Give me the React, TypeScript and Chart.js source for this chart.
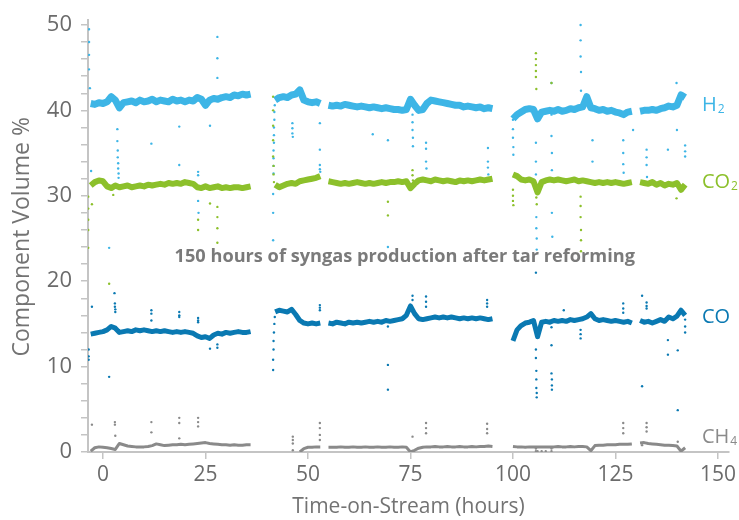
import React, { useEffect, useRef } from "react";
import { Chart, registerables } from "chart.js";

Chart.register(...registerables);

// Time grid (hours on stream)
const hours = [
  -3, -2, -1, 0, 1, 2, 3, 4, 5, 6,
  7, 8, 9, 10, 11, 12, 13, 14, 15, 16,
  17, 18, 19, 20, 21, 22, 23, 24, 25, 26,
  27, 28, 29, 30, 31, 32, 33, 34, 35, 36,
  37, 38, 39, 40, 41, 42, 43, 44, 45, 46,
  47, 48, 49, 50, 51, 52, 53, 54, 55, 56,
  57, 58, 59, 60, 61, 62, 63, 64, 65, 66,
  67, 68, 69, 70, 71, 72, 73, 74, 75, 76,
  77, 78, 79, 80, 81, 82, 83, 84, 85, 86,
  87, 88, 89, 90, 91, 92, 93, 94, 95, 96,
  97, 98, 99, 100, 101, 102, 103, 104, 105, 106,
  107, 108, 109, 110, 111, 112, 113, 114, 115, 116,
  117, 118, 119, 120, 121, 122, 123, 124, 125, 126,
  127, 128, 129, 130, 131, 132, 133, 134, 135, 136,
  137, 138, 139, 140, 141, 142, 143,
];

const h2 = [
  40.8, 40.7, 40.9, 40.8, 41.0, 41.6, 41.2, 40.3, 40.9, 41.0,
  41.1, 40.9, 41.2, 41.0, 41.1, 41.3, 41.0, 41.2, 41.1, 41.0,
  41.3, 41.1, 41.2, 41.0, 41.2, 41.1, 41.5, 41.3, 40.6, 41.2,
  41.4, 41.3, 41.5, 41.6, 41.5, 41.8, 41.7, 41.9, 41.8, 41.9,
  null, null, null, null, null, 41.2, 41.5, 41.6, 41.5, 41.8,
  41.9, 42.4, 41.2, 41.0, 40.9, 41.0, 40.8, null, 40.6, 40.5,
  40.6, 40.5, 40.7, 40.6, 40.5, 40.4, 40.5, 40.4, 40.3, 40.4,
  40.3, 40.2, 40.3, 40.2, 40.1, 40.1, 40.0, 40.1, 41.3, 40.6,
  40.0, 40.1, 40.8, 41.2, 41.1, 41.0, 40.9, 40.8, 40.7, 40.6,
  40.6, 40.4, 40.5, 40.4, 40.3, 40.4, 40.2, 40.3, 40.2, null,
  null, null, null, 39.0, 39.5, 39.8, 40.1, 40.2, 40.1, 39.0,
  39.8, 39.9, 40.0, 39.9, 40.1, 39.9, 40.0, 40.2, 40.1, 40.3,
  40.4, 41.6, 40.3, 40.2, 40.0, 40.1, 39.9, 40.0, 39.8, 39.7,
  39.5, 39.8, 39.9, null, 39.9, 40.0, 40.0, 40.1, 40.0, 40.2,
  40.3, 40.5, 40.4, 40.6, 41.8, 41.5, null,
];

const co2 = [
  31.2, 31.6, 31.8, 31.7, 31.1, 30.9, 31.2, 31.0, 31.1, 31.2,
  31.0, 31.1, 31.2, 31.1, 31.3, 31.2, 31.3, 31.4, 31.3, 31.5,
  31.4, 31.5, 31.4, 31.6, 31.5, 31.4, 31.0, 30.9, 31.1, 30.9,
  31.0, 31.1, 30.9, 31.0, 30.9, 31.0, 31.0, 30.9, 31.0, 31.1,
  null, null, null, null, null, 31.3, 31.0, 31.2, 31.4, 31.5,
  31.4, 31.7, 31.8, 31.9, 32.0, 32.1, 32.3, null, 31.7, 31.6,
  31.5, 31.4, 31.5, 31.4, 31.5, 31.6, 31.5, 31.4, 31.5, 31.4,
  31.5, 31.6, 31.5, 31.6, 31.6, 31.7, 31.6, 31.7, 30.9, 31.4,
  31.8, 31.9, 31.8, 31.7, 31.9, 31.8, 31.7, 31.8, 31.7, 31.6,
  31.8, 31.7, 31.8, 31.7, 31.8, 31.9, 31.8, 31.9, 32.0, null,
  null, null, null, 32.5, 32.3, 31.9, 31.8, 31.9, 31.7, 30.4,
  31.6, 31.8, 31.9, 31.8, 31.9, 31.8, 31.7, 31.8, 31.9, 31.7,
  31.8, 31.7, 31.6, 31.5, 31.6, 31.5, 31.6, 31.5, 31.6, 31.5,
  31.4, 31.5, 31.6, null, 31.6, 31.5, 31.4, 31.6, 31.3, 31.5,
  31.2, 31.4, 31.3, 31.5, 30.7, 31.3, null,
];

const co = [
  13.8, 13.9, 14.0, 14.1, 14.3, 14.7, 14.5, 14.0, 14.1, 14.2,
  14.1, 14.3, 14.2, 14.3, 14.2, 14.1, 14.2, 14.1, 14.2, 14.1,
  14.0, 14.1, 14.0, 14.1, 14.0, 13.9, 13.6, 13.4, 13.5, 13.3,
  13.7, 13.9, 13.8, 14.0, 13.9, 14.0, 14.1, 14.0, 14.0, 14.1,
  null, null, null, null, null, 16.4, 16.6, 16.5, 16.4, 16.7,
  16.1, 15.4, 15.1, 15.0, 15.1, 15.0, 15.1, null, 15.1, 15.0,
  15.2, 15.1, 15.0, 15.2, 15.1, 15.2, 15.1, 15.2, 15.3, 15.2,
  15.3, 15.2, 15.4, 15.3, 15.4, 15.5, 15.6, 16.0, 17.1, 16.2,
  15.6, 15.5, 15.6, 15.7, 15.8, 15.7, 15.8, 15.7, 15.8, 15.7,
  15.6, 15.7, 15.6, 15.7, 15.6, 15.7, 15.6, 15.5, 15.6, null,
  null, null, null, 13.0, 14.3, 14.8, 15.1, 15.2, 15.4, 13.5,
  15.2, 15.3, 15.2, 15.4, 15.3, 15.4, 15.3, 15.5, 15.4, 15.5,
  15.6, 15.8, 16.2, 15.6, 15.4, 15.5, 15.4, 15.3, 15.4, 15.3,
  15.2, 15.3, 15.1, null, 15.4, 15.2, 15.3, 15.1, 15.3, 15.5,
  15.3, 15.8, 15.6, 15.9, 16.6, 16.0, null,
];

const ch4 = [
  0.1, 0.5, 0.6, 0.55, 0.5, 0.4, 0.3, 1.0, 0.85, 0.7,
  0.65, 0.6, 0.6, 0.6, 0.65, 0.75, 0.95, 0.85, 0.75, 0.8,
  0.85, 0.85, 0.9, 0.85, 0.9, 0.95, 1.0, 1.05, 1.1, 1.0,
  0.95, 0.9, 0.85, 0.85, 0.8, 0.85, 0.8, 0.8, 0.85, 0.85,
  null, null, null, null, null, null, null, null, null, null,
  null, 0.0, 0.4, 0.55, 0.55, 0.6, 0.6, null, 0.55, 0.55,
  0.55, 0.6, 0.55, 0.55, 0.6, 0.55, 0.55, 0.6, 0.55, 0.55,
  0.6, 0.55, 0.55, 0.6, 0.55, 0.55, 0.6, 0.55, 0.0, 0.2,
  0.45, 0.55, 0.6, 0.6, 0.65, 0.6, 0.6, 0.65, 0.6, 0.6,
  0.65, 0.6, 0.6, 0.65, 0.6, 0.65, 0.65, 0.7, 0.65, null,
  null, null, null, 0.65, 0.6, 0.6, 0.55, 0.6, 0.6, 0.6,
  0.6, 0.6, 0.6, 0.6, 0.65, 0.6, 0.6, 0.65, 0.6, 0.65,
  0.65, 0.6, 0.15, 0.75, 0.8, 0.8, 0.85, 0.85, 0.85, 0.9,
  0.9, 0.9, 0.95, null, 1.05, 1.1, 1.0, 0.95, 0.9, 0.85,
  0.8, 0.8, 0.75, 0.7, 0.1, 0.5, null,
];

// Stray readings [hour, %]
const h2Stray = [
  [-3.4, 49.5], [-3.4, 48], [-3.4, 46.5], [-3.4, 44.8], [-3.2, 42.6], [-2.9, 32.9],
  [1.5, 23.9],
  [3.5, 37.8], [3.5, 36.4], [3.6, 35.3], [3.6, 34.5], [3.7, 33.8], [3.7, 33.2], [3.8, 32.6], [3.8, 32.1],
  [11.8, 36.1], [18.6, 38.1], [18.6, 33.6],
  [23.2, 32.8], [23.2, 32.4], [23.2, 29.4], [23.3, 28.0], [26.1, 38.2],
  [27.9, 48.6], [27.9, 46.1], [27.9, 43.8],
  [41.5, 24.8], [41.5, 28.0], [41.5, 30.2], [41.6, 32.6], [41.6, 33.5], [41.6, 34.4], [41.6, 35.3],
  [41.7, 36.2], [41.7, 37.1], [41.7, 38.0], [41.8, 38.9], [41.8, 39.8], [41.9, 40.6],
  [46.2, 38.5], [46.2, 37.9], [46.2, 37.3], [46.3, 36.9],
  [52.9, 38.5], [52.9, 35.4], [52.9, 33.6], [52.9, 33.1], [53.0, 32.8],
  [65.8, 37.2], [69.5, 36.5], [69.5, 24.0],
  [75.5, 39.5], [75.5, 38.6], [75.5, 37.7], [75.6, 36.8], [75.6, 35.8],
  [78.8, 36.2], [78.8, 35.5], [78.8, 34.0], [78.9, 33.2],
  [93.9, 35.6], [93.9, 34.0], [93.9, 33.3], [94.0, 32.5],
  [100.0, 38.9], [100.0, 37.8], [100.0, 36.8], [100.1, 35.7], [100.1, 34.8],
  [105.6, 36.2], [105.6, 34.0], [105.6, 32.5], [105.7, 30.5], [105.7, 27.5], [105.7, 26.2], [105.8, 25.0], [105.8, 23.7],
  [109.4, 43.2], [109.4, 39.5], [109.4, 37.0], [109.5, 35.0], [109.5, 33.0], [109.5, 28.0], [109.6, 25.2],
  [116.5, 50.0], [116.5, 48.2], [116.5, 46.3], [116.6, 44.5], [116.6, 42.3],
  [119.4, 36.5], [119.4, 34.0],
  [126.9, 36.5], [126.9, 35.0], [126.9, 33.7], [127.0, 32.7],
  [129.3, 37.7],
  [132.6, 35.4], [132.6, 34.5], [132.6, 33.6], [132.7, 32.2],
  [137.8, 35.4], [139.9, 43.2], [140.0, 37.7],
  [142.0, 35.9], [142.0, 35.2], [142.0, 34.6],
];

const co2Stray = [
  [-3.6, 29.9], [-3.6, 28.5], [-3.6, 27.2], [-3.6, 26.0], [-3.6, 23.9], [-2.7, 29.0],
  [2.5, 30.1], [1.5, 19.7],
  [23.2, 27.2], [23.2, 26.0], [26.1, 29.1],
  [27.9, 28.7], [27.9, 27.5], [27.9, 26.2], [27.9, 24.5],
  [41.5, 41.6], [41.5, 40.0], [41.5, 38.2], [41.5, 36.5], [41.5, 34.6], [41.6, 33.5], [41.6, 32.5], [41.7, 31.6],
  [69.5, 29.3], [69.5, 27.7],
  [75.5, 33.0], [75.5, 32.4], [75.6, 31.8],
  [100.0, 30.7], [100.0, 30.0], [100.0, 29.4], [100.1, 28.9],
  [105.6, 46.7], [105.6, 46.0], [105.6, 45.3], [105.6, 44.6], [105.6, 43.9], [105.7, 42.5],
  [105.7, 30.7], [105.7, 29.8], [105.8, 29.0],
  [109.4, 43.2],
  [116.5, 29.9], [116.5, 28.8], [116.5, 27.5], [116.6, 26.0], [116.6, 24.8], [116.6, 23.5],
  [139.9, 29.7],
];

const coStray = [
  [-3.5, 12.0], [-3.5, 11.2], [-3.5, 10.8], [-2.7, 17.0],
  [2.8, 18.6], [2.9, 17.4], [2.9, 17.0], [3.0, 16.7], [3.0, 16.4],
  [1.5, 8.8],
  [11.8, 16.6], [11.8, 16.2], [11.8, 15.4],
  [18.6, 16.4], [18.6, 16.0], [18.6, 15.8],
  [23.2, 15.7], [23.2, 15.4], [23.2, 15.2],
  [26.1, 12.1], [27.9, 12.2], [27.9, 12.6],
  [41.5, 9.6], [41.5, 10.8], [41.6, 12.0], [41.6, 13.0], [41.7, 14.0], [41.8, 15.0], [41.9, 15.8],
  [52.9, 17.2], [52.9, 16.9], [52.9, 16.6],
  [69.5, 14.7], [69.5, 10.2], [69.5, 7.3],
  [75.5, 18.3], [75.5, 17.8],
  [78.8, 18.2], [78.8, 17.6], [78.8, 17.0],
  [93.7, 17.8], [93.7, 17.4], [93.7, 17.0],
  [105.6, 21.0], [105.6, 14.6], [105.6, 12.0], [105.6, 11.0], [105.7, 9.5], [105.7, 8.5], [105.7, 7.5], [105.8, 6.9], [105.8, 6.4],
  [109.4, 14.6], [109.4, 12.5], [109.4, 9.2], [109.5, 8.5], [109.5, 7.8], [109.5, 7.3],
  [112.4, 16.6], [116.5, 14.3], [116.5, 13.8], [116.5, 13.3],
  [126.9, 17.4], [126.9, 16.8], [126.9, 16.3],
  [131.5, 18.3], [131.5, 7.7],
  [132.6, 17.5], [132.6, 17.1], [132.6, 16.8],
  [137.8, 13.1], [137.8, 11.4],
  [140.2, 11.9], [140.2, 4.9],
  [142.0, 15.5], [142.0, 14.7], [142.0, 14.0],
];

const ch4Stray = [
  [-2.7, 3.2],
  [2.9, 3.5], [2.9, 3.2], [3.0, 1.9],
  [11.8, 3.5], [11.8, 2.3],
  [18.6, 4.0], [18.6, 3.4], [18.6, 1.6],
  [23.2, 4.0], [23.2, 3.5], [23.2, 3.0],
  [46.3, 1.8], [46.3, 1.4], [46.3, 1.0], [46.3, 0.2],
  [52.9, 3.4], [52.9, 2.8], [52.9, 2.0], [52.9, 1.4],
  [75.5, 1.8],
  [78.8, 3.4], [78.8, 2.8], [78.8, 2.2],
  [93.7, 3.3], [93.7, 2.7], [93.7, 2.2],
  [105.6, 0.4], [105.6, 0.1], [106.0, 0.1], [107.0, 0.1], [108.0, 0.1], [109.4, 0.1], [109.4, 0.4],
  [126.9, 3.4], [126.9, 2.8], [126.9, 2.2],
  [132.6, 3.4], [132.6, 2.9], [132.6, 2.4],
  [131.5, 0.8], [140.2, 1.2],
];

const seriesMain = ["H", "CO", "CO", "CH"];
const seriesSub = ["2", "2", "", "4"];
const seriesColors = ["#3db5e6", "#8cc02b", "#0a79b2", "#8a8a8a"];
const labelAt = [39.9, 30.9, 15.1, 1.05];

const noteText = "150 hours of syngas production after tar reforming";
const xTitle = "Time-on-Stream (hours)";
const yTitle = "Component Volume %";

const FONT = '"Open Sans", "DejaVu Sans", sans-serif';

const toXY = (vals: (number | null)[]) => hours.map((h, i) => ({ x: h, y: vals[i] }));
const strayXY = (pts: number[][]) => pts.map((p) => ({ x: p[0], y: p[1] }));

const textPlugin = {
  id: "textPlugin",
  afterDatasetsDraw(chart: any) {
    const ctx = chart.ctx;
    const xs = chart.scales.x;
    const ys = chart.scales.y;
    ctx.save();
    ctx.font = `bold 18.2px ${FONT}`;
    ctx.fillStyle = "#7a7a7a";
    ctx.textAlign = "center";
    ctx.textBaseline = "middle";
    ctx.fillText(noteText, xs.getPixelForValue(73.6), ys.getPixelForValue(22.9));

    // vertical axis title
    ctx.save();
    ctx.translate(22, ys.getPixelForValue(25.2));
    ctx.rotate(-Math.PI / 2);
    ctx.font = `23px ${FONT}`;
    ctx.fillStyle = "#737373";
    ctx.fillText(yTitle, 0, 0);
    ctx.restore();

    ctx.textAlign = "left";
    ctx.textBaseline = "alphabetic";
    const lx = xs.getPixelForValue(146.1);
    for (let i = 0; i < seriesMain.length; i++) {
      const by = ys.getPixelForValue(labelAt[i]);
      ctx.fillStyle = seriesColors[i];
      ctx.font = `20px ${FONT}`;
      ctx.fillText(seriesMain[i], lx, by);
      const w = ctx.measureText(seriesMain[i]).width;
      if (seriesSub[i]) {
        ctx.font = `12px ${FONT}`;
        ctx.fillText(seriesSub[i], lx + w + 1, by + 2);
      }
    }
    ctx.restore();
  },
};

export default function App() {
  const ref = useRef<HTMLCanvasElement | null>(null);

  useEffect(() => {
    document.body.style.margin = "0";
    if (!ref.current) return;
    const bandWidths = [7, 6, 5, 3];
    const bands = [h2, co2, co, ch4];
    const strays = [h2Stray, co2Stray, coStray, ch4Stray];
    const datasets: any[] = [];
    for (let i = 3; i >= 0; i--) {
      datasets.push({
        data: toXY(bands[i]),
        showLine: true,
        borderColor: seriesColors[i],
        backgroundColor: seriesColors[i],
        borderWidth: bandWidths[i],
        borderJoinStyle: "round",
        pointRadius: 0,
        spanGaps: false,
      });
    }
    for (let i = 3; i >= 0; i--) {
      datasets.push({
        data: strayXY(strays[i]),
        showLine: false,
        backgroundColor: seriesColors[i],
        borderWidth: 0,
        pointRadius: 1.2,
      });
    }

    const chart = new Chart(ref.current, {
      type: "scatter",
      data: { datasets },
      plugins: [textPlugin],
      options: {
        animation: false,
        responsive: false,
        layout: { padding: { top: 20, right: 10, left: 0, bottom: 0 } },
        plugins: { legend: { display: false }, tooltip: { enabled: false } },
        scales: {
          x: {
            type: "linear",
            min: -3.66,
            max: 152.7,
            afterFit: (s: any) => {
              s.height = 68;
              s.paddingLeft = 0;
              s.paddingRight = 0;
            },
            border: { color: "#c4c4c4", width: 2 },
            grid: { display: true, drawOnChartArea: false, drawTicks: true, tickLength: 7, color: "#c4c4c4", lineWidth: 1.5 },
            ticks: {
              stepSize: 25,
              includeBounds: false,
              autoSkip: false,
              maxRotation: 0,
              padding: 3,
              color: "#6b6b6b",
              font: { family: FONT, size: 21 },
            },
            title: {
              display: true,
              text: xTitle,
              color: "#737373",
              font: { family: FONT, size: 21 },
              padding: { top: 0, bottom: 0 },
            },
          },
          y: {
            type: "linear",
            min: 0,
            max: 50.58,
            afterFit: (s: any) => {
              s.width = 88;
              s.paddingTop = 0;
              s.paddingBottom = 0;
            },
            border: { color: "#c4c4c4", width: 2 },
            grid: { display: true, drawOnChartArea: false, drawTicks: true, tickLength: 7, color: "#c4c4c4", lineWidth: 1.5 },
            ticks: {
              stepSize: 2,
              includeBounds: false,
              autoSkip: false,
              padding: 9,
              color: "#6b6b6b",
              font: { family: FONT, size: 22 },
              callback: (v: any) => (Number(v) % 10 === 0 ? String(v) : ""),
            },
            title: { display: false },
          },
        },
      },
    });
    return () => chart.destroy();
  }, []);

  return (
    <div style={{ width: 739, height: 520 }}>
      <canvas ref={ref} width={739} height={520} style={{ display: "block" }} />
    </div>
  );
}
